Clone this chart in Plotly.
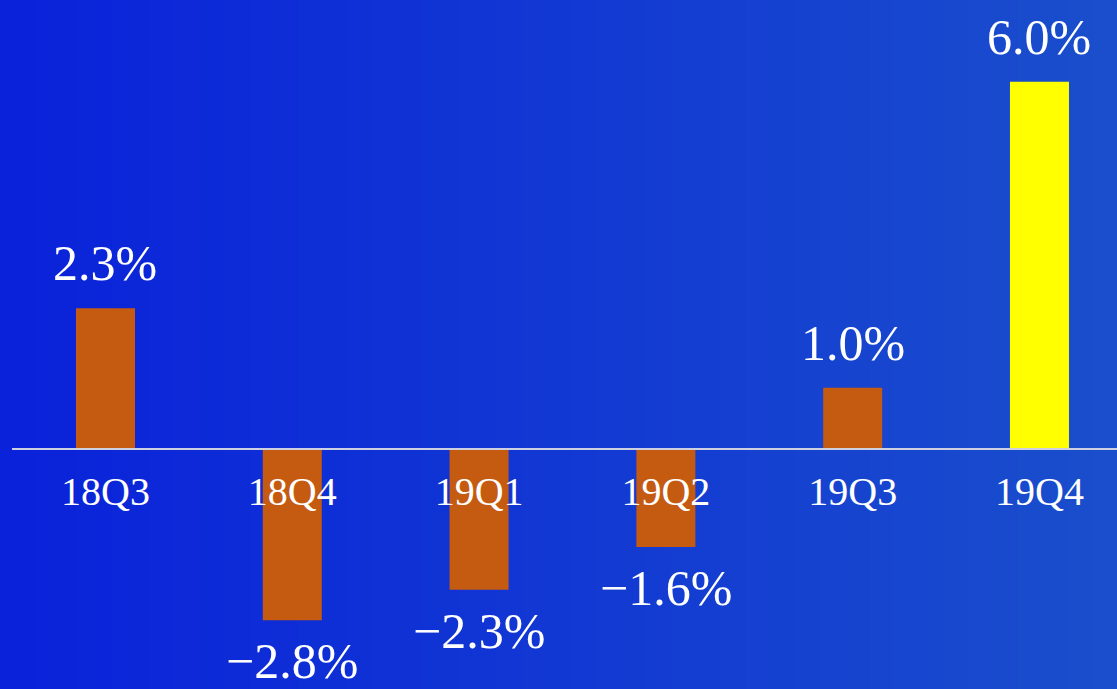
import plotly.graph_objects as go

categories = ["18Q3", "18Q4", "19Q1", "19Q2", "19Q3", "19Q4"]
values = [2.3, -2.8, -2.3, -1.6, 1.0, 6.0]
bar_colors = ["#C55A11", "#C55A11", "#C55A11", "#C55A11", "#C55A11", "#FFFF00"]
value_labels = [f"{v:.1f}%".replace("-", "\u2212") for v in values]

W, H = 1117, 689
y_range = [-3.922, 7.337]
x_range = [-0.5005, 5.415]

fig = go.Figure()
fig.add_trace(go.Bar(
    x=categories, y=values, marker_color=bar_colors, marker_line_width=0,
    width=0.316, hoverinfo="skip",
))

font_fam = "Liberation Serif, Times New Roman, serif"
for c, v, t in zip(categories, values, value_labels):
    fig.add_annotation(
        x=c, y=v, xref="x", yref="y", text=t, showarrow=False,
        yanchor="middle", yshift=45 if v >= 0 else -41,
        font=dict(family=font_fam, size=50, color="white"),
    )

# background gradient strips (paper coordinates)
c0 = (10, 34, 218)
c1 = (26, 78, 204)
n = 90
shapes = []
l_margin = 12
left_p = -l_margin / (W - l_margin)
for i in range(n):
    t = i / (n - 1)
    col = tuple(round(a + (b - a) * t) for a, b in zip(c0, c1))
    x0 = left_p + (1 - left_p) * i / n
    x1 = left_p + (1 - left_p) * (i + 1) / n + 0.002
    shapes.append(dict(
        type="rect", xref="paper", yref="paper", x0=x0, x1=x1, y0=0, y1=1,
        fillcolor="rgb(%d,%d,%d)" % col, line_width=0, layer="below",
    ))

zero_pos = (0 - y_range[0]) / (y_range[1] - y_range[0])

fig.update_layout(
    width=W, height=H, autosize=False,
    margin=dict(l=l_margin, r=0, t=0, b=0, pad=0),
    paper_bgcolor="rgb(16,52,212)", plot_bgcolor="rgba(0,0,0,0)",
    shapes=shapes, showlegend=False, bargap=0.6,
    xaxis=dict(
        range=x_range, showgrid=False, zeroline=False,
        showline=True, linecolor="rgb(205,208,225)", linewidth=2,
        anchor="free", position=zero_pos, ticks="", ticklabelstandoff=7,
        tickfont=dict(family=font_fam, size=40, color="white"),
        fixedrange=True,
    ),
    yaxis=dict(
        range=y_range, visible=False, showgrid=False, zeroline=False,
        fixedrange=True,
    ),
)

fig.write_html(
    "out.html",
    config={"displayModeBar": False},
    post_script="document.body.style.margin='0';document.body.style.overflow='hidden';",
)
